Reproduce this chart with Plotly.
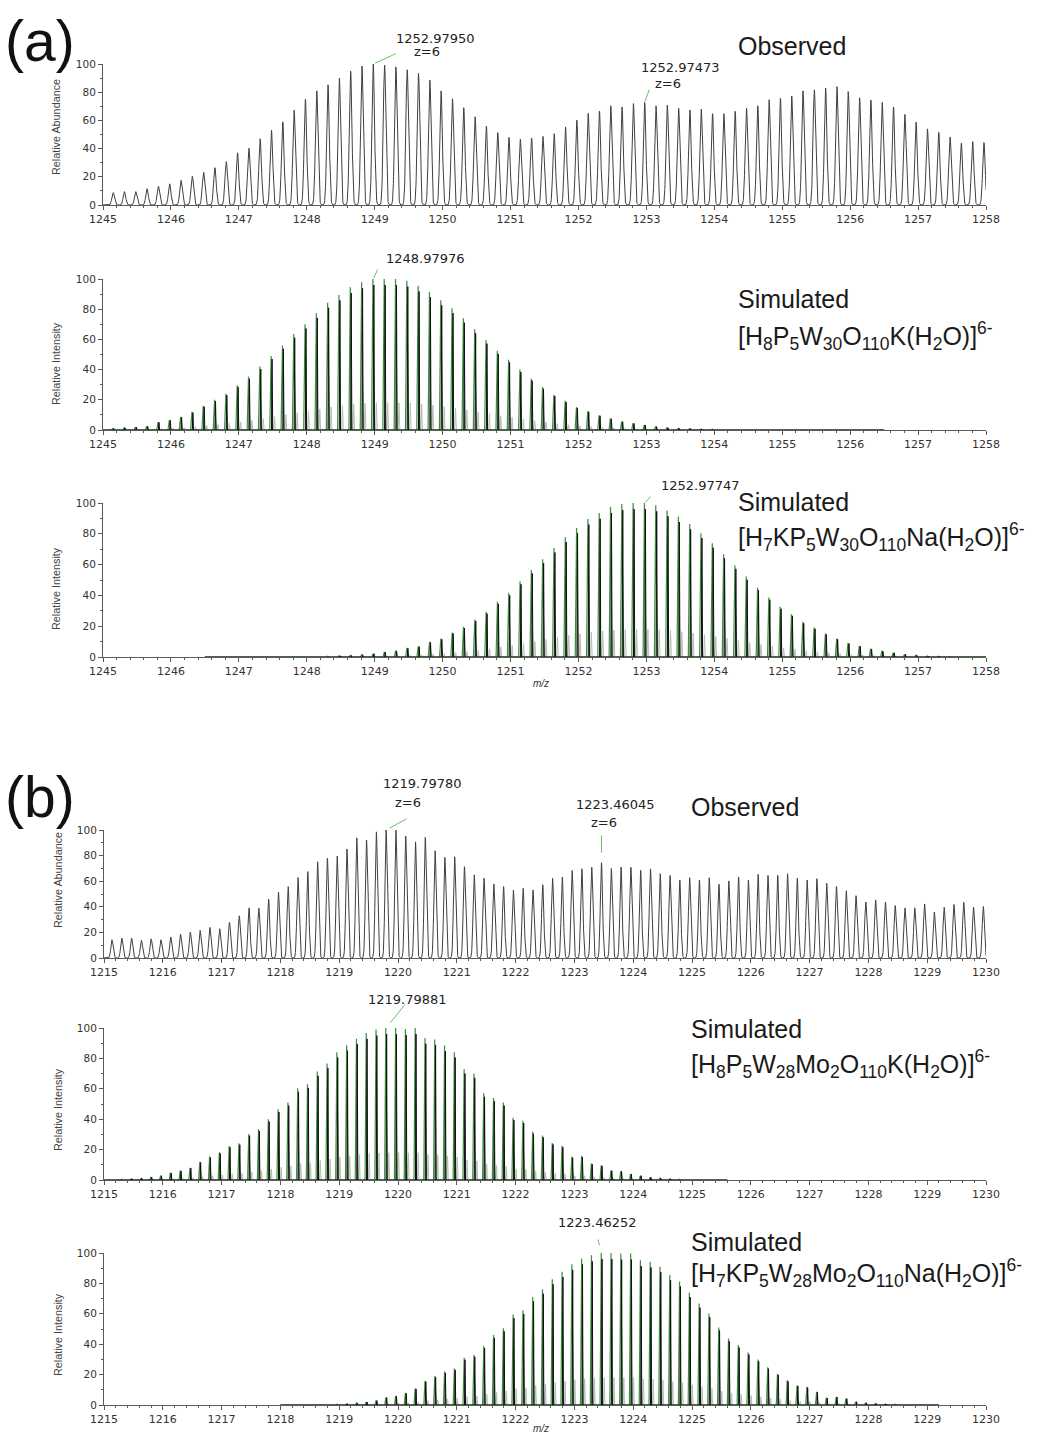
import numpy as np
import plotly.graph_objects as go

W, H = 1037, 1435
ISO_STEP = 0.999 / 6                      # isotope spacing for a 6- ion

# ---------------- data ----------------
# (a) observed: peak heights on the z=6 isotope grid, anchored at the labelled peak
a_obs_anchor = 1252.97473
a_obs_anchor_idx = 47
a_obs_heights = [8.8, 9.5, 9.5, 11.6, 13.3, 15, 17.5, 20.4, 23.2, 26.5, 30.8, 37, 40.3, 47, 53,
                 59, 67.3, 75, 81, 85.3, 90, 95, 98.6, 100, 99.3, 98, 96, 93.4, 88.6, 81, 75.4,
                 69, 62.6, 56, 51.4, 48, 46.7, 47.5, 48.7, 50.6, 55.4, 60.2, 65, 66.7, 70.4, 69.6,
                 72, 72.8, 70.4, 70.8, 68.7, 67.5, 68, 64.8, 64.8, 66.5, 68.7, 70.4, 74.7, 75.7,
                 77.3, 81, 81.7, 82.9, 84, 80.5, 76.1, 74.5, 72.8, 69.6, 64.3, 58.8, 54, 51.6,
                 48.2, 43.9, 45, 44.3]

# (a) simulated [H8P5W30O110K(H2O)]6-
a_sim1_anchor = 1248.97976
a_sim1_anchor_idx = 23
a_sim1_span = (1245.0, 1256.5)
a_sim1_heights = [1, 1.5, 2, 2.5, 5.3, 6.6, 8.8, 12, 16, 20, 24, 29.6, 35.3, 42, 49, 56, 63.6,
                  70, 77.3, 84.3, 89.4, 94.5, 97.8, 100, 100, 100, 98.9, 95.6, 91.6, 86, 80.6,
                  74, 66.7, 59.6, 52.5, 46.5, 40, 34, 28.4, 23.4, 19.3, 15.2, 12.5, 9.8, 7.7,
                  5.7, 4.5, 3.4, 2.3, 1.6, 1.1, 0.9, 0.7, 0.5, 0.4, 0.3, 0.3, 0.2, 0.2, 0.1,
                  0.1, 0.1, 0.1, 0.1]

# (a) simulated [H7KP5W30O110Na(H2O)]6-
a_sim2_anchor = 1252.97747
a_sim2_anchor_idx = 39
a_sim2_span = (1246.5, 1258.0)
a_sim2_heights = [0.1, 0.1, 0.1, 0.1, 0.1, 0.2, 0.2, 0.2, 0.3, 0.3, 0.4, 0.5, 0.8, 1, 1.5, 2.2,
                  3.3, 4.1, 5.9, 7, 9.8, 12, 15.9, 19.6, 24.3, 29.3, 35.9, 41.7, 49.2, 56.5,
                  63.5, 70.7, 77.8, 83.7, 89.6, 93.5, 97.4, 99.3, 100, 100, 98.5, 95.2, 91.3,
                  86.3, 80.4, 73.9, 66.7, 59.6, 52.2, 45.2, 38.7, 32.6, 27.8, 22.8, 19.1, 15.2,
                  12, 9.1, 7.2, 5.4, 3.9, 2.8, 1.7, 1.1, 0.7, 0.5, 0.3, 0.2, 0.1, 0.1]

# (b) observed
b_obs_anchor = 1223.46045
b_obs_anchor_idx = 50
b_obs_heights = [14.3, 15.6, 15.6, 13.8, 15, 14.3, 16.4, 18.7, 20.3, 21.6, 23.9, 22.9, 27.8, 33,
                 39.2, 39, 46, 51.4, 55.8, 62.9, 67.5, 75.3, 77.9, 79.7, 85.2, 94, 92.2, 98.7,
                 100, 100, 95.3, 90.9, 94.3, 83.9, 78.7, 79.2, 71.4, 65, 62.3, 57.9, 55.8, 53.2,
                 54.4, 53.3, 57.2, 62.3, 63.3, 68.5, 69.7, 71, 74.4, 70, 71, 71, 68.5, 69.7,
                 65.9, 64.6, 61, 62.8, 60.8, 62.8, 57.7, 60.3, 63.3, 61, 65.4, 64.6, 64.6, 65.9,
                 62.3, 61, 62, 58.5, 55.9, 52.6, 48.7, 43.8, 45.4, 43.8, 41, 39.2, 39.2, 42.3,
                 35.9, 39.7, 41.8, 43.6, 39.7, 40.3]

# (b) simulated [H8P5W28Mo2O110K(H2O)]6-
b_sim1_anchor = 1219.79881
b_sim1_anchor_idx = 28
b_sim1_span = (1215.0, 1225.6)
b_sim1_heights = [0.3, 0.5, 0.8, 1.1, 2, 2.9, 4.8, 6.2, 8.1, 12, 15.4, 18.2, 22.4, 24.2, 30.3,
                  33.6, 40, 46.6, 51, 60.4, 63, 71.4, 76.7, 84, 88.6, 93, 96.7, 99, 100, 100,
                  99.3, 100, 93.4, 92.5, 88.4, 84, 73, 70, 57, 54, 51, 41, 39, 31.7, 29.2, 24.3,
                  22.5, 15.3, 15.7, 10.8, 9.7, 6.3, 5.8, 4, 2.9, 1.8, 1.2, 0.8, 0.5, 0.3, 0.2,
                  0.1, 0.1, 0.1]

# (b) simulated [H7KP5W28Mo2O110Na(H2O)]6-
b_sim2_anchor = 1223.46252
b_sim2_anchor_idx = 33
b_sim2_span = (1218.0, 1229.2)
b_sim2_heights = [0.1, 0.1, 0.2, 0.2, 0.3, 0.4, 0.5, 0.8, 1.3, 2, 3, 5, 6, 8, 11, 16, 19, 22,
                  24, 31, 33, 39, 46, 50.5, 59.5, 62.3, 71, 76.2, 82.7, 87.7, 92.6, 96.3, 98.5,
                  100, 100, 99.6, 99.6, 95.2, 94.2, 91, 85.5, 81.2, 74, 66.7, 60.2, 51, 43.7,
                  39.4, 34.6, 29.9, 24.9, 20.6, 16.2, 13, 11.9, 8.7, 4.8, 5.4, 4.3, 2.2, 1.5, 1,
                  0.7, 0.5, 0.3, 0.2, 0.1, 0.1]

a_range = (1245, 1258)
b_range = (1215, 1230)
y_ticks = [0, 20, 40, 60, 80, 100]

# ---------------- helpers ----------------
def peak_positions(anchor, idx, n):
    return anchor + (np.arange(n) - idx) * ISO_STEP


def profile(pos, hts, lo, hi, sigma=0.019, step=0.003):
    x = np.arange(lo, hi + step, step)
    y = np.zeros_like(x)
    for p, h in zip(pos, hts):
        y += h * np.exp(-0.5 * ((x - p) / sigma) ** 2)
    return x, np.minimum(y, 100)


def spikes(pos, hts, span, dx, hw, frac):
    xs, ys = [span[0]], [0.0]
    for p, h in zip(pos, hts):
        c = p + dx
        if c - hw < span[0] or c + hw > span[1]:
            continue
        xs += [c - hw, c, c + hw]
        ys += [0.0, h * frac, 0.0]
    xs.append(span[1])
    ys.append(0.0)
    return xs, ys


# page pixel -> paper fraction
def px(x):
    return x / W


def py(y):
    return 1 - y / H


SMALL = "DejaVu Sans, Arial, sans-serif"
BIG = "Liberation Sans, Arial, sans-serif"

# plot-area boxes in page pixels: (left, right, top, bottom)
boxes = [
    (103, 986, 64, 205),
    (103, 986, 279, 430),
    (103, 986, 503, 657),
    (104, 986, 830, 958),
    (104, 986, 1028, 1180),
    (104, 986, 1253, 1405),
]
xranges = [a_range, a_range, a_range, b_range, b_range, b_range]

fig = go.Figure()

OBS_COLOR = "#404040"
GREEN = "#3d8f3d"
BLACK = "#111111"
SAT = "#b3bfb3"


def add_obs(panel, anchor, idx, hts, xr):
    pos = peak_positions(anchor, idx, len(hts))
    x, y = profile(pos, hts, xr[0], xr[1])
    fig.add_trace(go.Scatter(x=x, y=y, mode="lines",
                             line=dict(color=OBS_COLOR, width=1),
                             xaxis=f"x{panel}", yaxis=f"y{panel}",
                             hoverinfo="skip", showlegend=False))
    return pos


def add_sim(panel, anchor, idx, hts, span):
    pos = peak_positions(anchor, idx, len(hts))
    # light satellite, green profile, black centroid-like trace on top
    for dx, hw, frac, col, lw in [(0.045, 0.012, 0.18, SAT, 1.0),
                                  (-0.006, 0.02, 1.0, GREEN, 1.2),
                                  (0.008, 0.009, 0.96, BLACK, 1.0)]:
        xs, ys = spikes(pos, hts, span, dx, hw, frac)
        fig.add_trace(go.Scatter(x=xs, y=ys, mode="lines",
                                 line=dict(color=col, width=lw),
                                 xaxis=f"x{panel}", yaxis=f"y{panel}",
                                 hoverinfo="skip", showlegend=False))
    return pos


pa1 = add_obs(1, a_obs_anchor, a_obs_anchor_idx, a_obs_heights, a_range)
pa2 = add_sim(2, a_sim1_anchor, a_sim1_anchor_idx, a_sim1_heights, a_sim1_span)
pa3 = add_sim(3, a_sim2_anchor, a_sim2_anchor_idx, a_sim2_heights, a_sim2_span)
pb1 = add_obs(4, b_obs_anchor, b_obs_anchor_idx, b_obs_heights, b_range)
pb2 = add_sim(5, b_sim1_anchor, b_sim1_anchor_idx, b_sim1_heights, b_sim1_span)
pb3 = add_sim(6, b_sim2_anchor, b_sim2_anchor_idx, b_sim2_heights, b_sim2_span)

layout = dict(
    template="none",
    width=W, height=H,
    autosize=False,
    margin=dict(l=0, r=0, t=0, b=0, pad=0, autoexpand=False),
    paper_bgcolor="white", plot_bgcolor="white",
    showlegend=False,
)

AX_COLOR = "#5a5a5a"
for i, ((l, r, t, b), xr) in enumerate(zip(boxes, xranges), start=1):
    layout[f"xaxis{i}"] = dict(
        domain=[px(l), px(r)], range=list(xr), anchor=f"y{i}",
        automargin=False,
        showline=True, linecolor=AX_COLOR, linewidth=1,
        ticks="outside", ticklen=4, tickcolor=AX_COLOR, dtick=1, tick0=xr[0],
        minor=dict(dtick=0.2, ticks="outside", ticklen=2, tickcolor=AX_COLOR),
        tickfont=dict(family=SMALL, size=11, color="#333333"),
        showgrid=False, zeroline=False, fixedrange=True,
    )
    layout[f"yaxis{i}"] = dict(
        domain=[py(b), py(t)], range=[0, 100], anchor=f"x{i}",
        automargin=False,
        showline=True, linecolor=AX_COLOR, linewidth=1,
        ticks="outside", ticklen=4, tickcolor=AX_COLOR, tickvals=y_ticks,
        minor=dict(dtick=10, ticks="outside", ticklen=2, tickcolor=AX_COLOR),
        tickfont=dict(family=SMALL, size=10.5, color="#333333"),
        showgrid=False, zeroline=False, fixedrange=True,
    )

ann = []

# panel letters
for txt, (x, y) in [("(a)", (40, 41)), ("(b)", (40, 797))]:
    ann.append(dict(text=txt, x=px(x), y=py(y), xref="paper", yref="paper",
                    xanchor="center", yanchor="middle", showarrow=False,
                    font=dict(family=BIG, size=57, color="#111111")))

# spectrum captions
captions = [
    ("Observed", 736, 46),
    ("Simulated", 736, 299),
    ("[H<sub>8</sub>P<sub>5</sub>W<sub>30</sub>O<sub>110</sub>K(H<sub>2</sub>O)]<sup>6-</sup>", 736, 336),
    ("Simulated", 736, 502),
    ("[H<sub>7</sub>KP<sub>5</sub>W<sub>30</sub>O<sub>110</sub>Na(H<sub>2</sub>O)]<sup>6-</sup>", 736, 537),
    ("Observed", 689, 807),
    ("Simulated", 689, 1029),
    ("[H<sub>8</sub>P<sub>5</sub>W<sub>28</sub>Mo<sub>2</sub>O<sub>110</sub>K(H<sub>2</sub>O)]<sup>6-</sup>", 689, 1064),
    ("Simulated", 689, 1242),
    ("[H<sub>7</sub>KP<sub>5</sub>W<sub>28</sub>Mo<sub>2</sub>O<sub>110</sub>Na(H<sub>2</sub>O)]<sup>6-</sup>", 689, 1273),
]
for txt, x, y in captions:
    ann.append(dict(text=txt, x=px(x), y=py(y), xref="paper", yref="paper",
                    xanchor="left", yanchor="middle", showarrow=False,
                    font=dict(family=BIG, size=25, color="#1a1a1a")))

# y-axis titles
for txt, x, y in [("Relative Abundance", 56, 127), ("Relative Intensity", 56, 364),
                  ("Relative Intensity", 56, 589), ("Relative Abundance", 58, 880),
                  ("Relative Intensity", 58, 1110), ("Relative Intensity", 58, 1335)]:
    ann.append(dict(text=txt, x=px(x), y=py(y), xref="paper", yref="paper",
                    xanchor="center", yanchor="middle", textangle=-90, showarrow=False,
                    font=dict(family=BIG, size=10.8, color="#444444")))

# m/z axis labels
for y in (683, 1428):
    ann.append(dict(text="<i>m/z</i>", x=px(541), y=py(y), xref="paper", yref="paper",
                    xanchor="center", yanchor="middle", showarrow=False,
                    font=dict(family=BIG, size=10, color="#333333")))

# peak labels: (panel, peak m/z, peak height, lines[(text, xshift, yshift)], leader(ax, ay, standoff))
LEAD = "#66c266"
peak_labels = [
    (1, pa1[a_obs_anchor_idx - 24], a_obs_heights[a_obs_anchor_idx - 24],
     [("1252.97950", 62, 25), ("z=6", 54, 12)], (24, -11, 2)),
    (1, pa1[a_obs_anchor_idx], a_obs_heights[a_obs_anchor_idx],
     [("1252.97473", 36, 35), ("z=6", 23, 19)], (5, -14, 1)),
    (2, a_sim1_anchor, 100, [("1248.97976", 52, 21)], (5, -11, 1)),
    (3, a_sim2_anchor, 100, [("1252.97747", 56, 17)], (7, -8, 1)),
    (4, pb1[b_obs_anchor_idx - 22], b_obs_heights[b_obs_anchor_idx - 22],
     [("1219.79780", 36, 47), ("z=6", 22, 28)], (22, -12, 4)),
    (4, b_obs_anchor, b_obs_heights[b_obs_anchor_idx],
     [("1223.46045", 14, 58), ("z=6", 3, 40)], (0, -29, 10)),
    (5, b_sim1_anchor, 100, [("1219.79881", 21, 29)], (20, -25, 7)),
    (6, b_sim2_anchor, 100, [("1223.46252", -4, 31)], (-4, -15, 8)),
]
for panel, mz, h, lines, (ax, ay, so) in peak_labels:
    for txt, xs, ys in lines:
        ann.append(dict(text=txt, x=mz, y=h, xref=f"x{panel}", yref=f"y{panel}",
                        xshift=xs, yshift=ys, xanchor="center", yanchor="middle",
                        showarrow=False,
                        font=dict(family=SMALL, size=13, color="#222222")))
    ann.append(dict(text="", x=mz, y=h, xref=f"x{panel}", yref=f"y{panel}",
                    showarrow=True, arrowhead=0, arrowwidth=1, arrowcolor=LEAD,
                    ax=ax, ay=ay, standoff=so))

layout["annotations"] = ann
fig.update_layout(**layout)
fig.write_html("out.html", config={"displayModeBar": False})
